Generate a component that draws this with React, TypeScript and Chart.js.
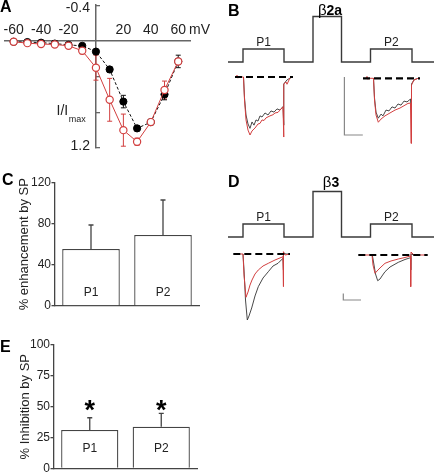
import React, { useEffect, useRef } from 'react';
import { Chart, registerables } from 'chart.js';

Chart.register(...registerables);

const FONT = '"Liberation Sans", Arial, Helvetica, sans-serif';
Chart.defaults.font.family = FONT;
Chart.defaults.color = '#222';

const RED = '#d23f3f';
const INK = '#222222';
const AXIS = '#444444';

// ---------------- Panel A : I/Imax vs mV ----------------
const ivVoltage = [-60, -50, -40, -30, -20, -10, 0, 10, 20, 30, 40, 50, 60];
const ivControl = [0.01, 0.013, 0.02, 0.03, 0.045, 0.055, 0.12, 0.32, 0.68, 0.98, 0.91, 0.6, 0.23];
const ivControlErr = [0.01, 0.01, 0.01, 0.01, 0.01, 0.015, 0.02, 0.03, 0.07, 0.03, 0.02, 0.06, 0.07];
const ivSP = [0.01, 0.025, 0.035, 0.04, 0.055, 0.11, 0.3, 0.66, 1.0, 1.13, 0.91, 0.55, 0.23];
const ivSPErr = [0.01, 0.01, 0.01, 0.015, 0.015, 0.035, 0.14, 0.24, 0.18, 0.04, 0.03, 0.1, 0.03];
const ivXTicks = [-60, -40, -20, 20, 40, 60];
const ivYTicks = [-0.4, 0.4, 0.8, 1.2];
const ivYLabels = [-0.4, 1.2];

// ---------------- Panels B / D : protocol + current traces ----------------
// time in ms, protocol level in relative units
const protocolTime = [1.5, 9, 9, 29.5, 29.5, 44, 44, 58.25, 58.25, 72.75, 72.75, 93.5, 93.5, 104.5];
const protocolLevel = [0, 0, 1, 1, 0, 0, 3.5, 3.5, 0, 0, 1, 1, 0, 0];
const pulseNames = ['P1', 'P2'];

// beta2a currents [ms, pA]
const b2aP1Control = [[9.25, 0], [9.75, -72], [10.5, -131], [11.5, -162], [12.5, -177], [13.5, -155], [14.5, -166], [15.5, -148], [16.5, -152], [17.5, -134], [18.5, -138], [20, -124], [21.5, -131], [23, -117], [24.5, -121], [26, -110], [27.5, -114], [29, -102], [29.25, -166], [29.5, -24], [31, -10], [33.5, 0]];
const b2aP1SP = [[5.5, 0], [6, 6], [6.5, -4], [7, 0], [9.25, 0], [9.75, -79], [10.5, -148], [11.5, -183], [12.5, -200], [13.5, -186], [15, -176], [16.5, -162], [17.5, -160], [18.5, -148], [19.5, -150], [20.5, -141], [22.5, -134], [24, -130], [25, -124], [26.5, -122], [27.5, -114], [29, -103], [29.25, -207], [29.5, -24], [30.5, -17], [31, -25], [32.5, -3], [33.5, 0]];
const b2aP2Control = [[74.25, -4.5], [74.75, -72], [75.5, -121], [76.65, -142], [78, -128], [79, -134], [80.5, -114], [82, -117], [83.5, -103], [85, -107], [86.5, -93], [88, -97], [89.5, -83], [91, -86], [92.75, -76], [93, -114], [93.25, -24], [94.5, -10], [96.5, -4.5]];
const b2aP2SP = [[70.5, -4.5], [71, 2], [71.5, -8], [72, -4.5], [74.25, -4.5], [74.75, -79], [75.5, -131], [76.65, -156], [78, -145], [80, -134], [82.5, -124], [85, -114], [87.5, -107], [90, -97], [91.5, -91], [92.75, -90], [93, -229], [93.25, -28], [94.5, -10], [96.5, -4.5]];
const b2aBaselineP1 = [[5, 0], [34, 0]];
const b2aBaselineP2 = [[69, -4.5], [97.5, -4.5]];
const b2aScaleBar = [[59.7, 0], [59.7, -200], [68.9, -200]];

// beta3 currents [ms, pA]
const b3P1Control = [[9, 0], [9.5, -242], [10.25, -697], [11.15, -1000], [12, -939], [13.35, -818], [15, -636], [16.65, -495], [19, -364], [21.65, -268], [24, -182], [26.5, -141], [29, -65], [29.15, -242], [29.3, 15], [30.5, 0], [32.5, 0]];
const b3P1SP = [[4.5, 0], [9, 0], [9.5, -318], [10.5, -656], [11.5, -576], [12.5, -470], [13.5, -394], [15, -303], [16.65, -242], [19, -182], [21.65, -141], [25, -91], [29, -41], [29.15, -495], [29.3, 35], [30, -15], [32.5, 0]];
const b3P2Control = [[73.65, -15], [74.25, -121], [75.25, -303], [76.35, -405], [77.5, -379], [78.5, -333], [80, -268], [82.5, -197], [86.65, -126], [90, -83], [92.75, -56], [92.85, -242], [93, 0], [94.5, -15]];
const b3P2SP = [[67.5, -15], [73.5, -15], [74, -167], [75, -292], [76.5, -242], [78, -197], [80, -141], [83, -106], [86.65, -76], [90, -53], [92.75, -30], [92.85, -495], [93, 30], [94.5, -15], [100, -15]];
const b3BaselineP1 = [[4.15, 0], [32.5, 0]];
const b3BaselineP2 = [[66.65, -15], [101.35, -15]];
const b3ScaleBar = [[59.15, -597], [59.15, -697], [68, -697]];

// ---------------- Panels C / E : bars ----------------
const barLabels = ['P1', 'P2'];
const enhancementMean = [55.4, 69];
const enhancementErr = [23.3, 34];
const enhancementTicks = [0, 40, 80, 120];
const inhibitionMean = [31.2, 33.9];
const inhibitionErr = [9.9, 10.7];
const inhibitionTicks = [0, 25, 50, 75, 100];
const inhibitionStars = [51, 51];

const toXY = (pairs: number[][]) => pairs.map(([x, y]) => ({ x, y }));

const baseOptions = {
  responsive: false,
  maintainAspectRatio: false,
  animation: false,
  devicePixelRatio: 1,
  events: [],
  plugins: { legend: { display: false }, tooltip: { enabled: false } },
};

// ---------- Panel A ----------
function buildIV(): any {
  const ivPlugin = {
    id: 'ivExtras',
    beforeDatasetsDraw(chart: any) {
      const { ctx } = chart;
      const xs = chart.scales.x;
      const ys = chart.scales.y;
      chart.data.datasets.forEach((ds: any) => {
        ctx.save();
        ctx.strokeStyle = ds.borderColor;
        ctx.lineWidth = 1;
        ds.data.forEach((p: any, i: number) => {
          const e = ds.errors[i];
          const x = xs.getPixelForValue(p.x);
          const y1 = ys.getPixelForValue(p.y - e);
          const y2 = ys.getPixelForValue(p.y + e);
          ctx.beginPath();
          ctx.moveTo(x, y1);
          ctx.lineTo(x, y2);
          ctx.moveTo(x - 2.5, y1);
          ctx.lineTo(x + 2.5, y1);
          ctx.moveTo(x - 2.5, y2);
          ctx.lineTo(x + 2.5, y2);
          ctx.stroke();
        });
        ctx.restore();
      });
    },
    afterDraw(chart: any) {
      const { ctx, chartArea } = chart;
      const xs = chart.scales.x;
      const ys = chart.scales.y;
      ctx.save();
      ctx.fillStyle = '#000';
      ctx.font = `bold 16px ${FONT}`;
      ctx.textAlign = 'left';
      ctx.textBaseline = 'alphabetic';
      ctx.fillText('A', 0, 12);

      ctx.fillStyle = INK;
      ctx.font = `14px ${FONT}`;
      ctx.textAlign = 'center';
      ctx.textBaseline = 'middle';
      const y0 = ys.getPixelForValue(0);
      ivXTicks.forEach((v) => ctx.fillText(String(v), xs.getPixelForValue(v), y0 - 11));
      ctx.textAlign = 'left';
      ctx.fillText('mV', chartArea.right - 1, y0 - 11);

      ctx.textAlign = 'right';
      const x0 = xs.getPixelForValue(0);
      ivYLabels.forEach((v) => {
        const dy = v < 0 ? 3 : -1.5;
        ctx.fillText(String(v), x0 - 6, ys.getPixelForValue(v) + dy);
      });

      ctx.textAlign = 'left';
      ctx.fillText('I/I', 56.5, 111);
      const w = ctx.measureText('I/I').width;
      ctx.font = `9px ${FONT}`;
      ctx.fillText('max', 56.5 + w + 0.5, 119.5);
      ctx.restore();
    },
  };

  return {
    type: 'line',
    data: {
      datasets: [
        {
          label: 'SP',
          data: ivVoltage.map((x, i) => ({ x, y: ivSP[i] })),
          errors: ivSPErr,
          borderColor: RED,
          borderWidth: 1,
          pointRadius: 3.6,
          pointBackgroundColor: '#ffffff',
          pointBorderColor: RED,
          pointBorderWidth: 1.2,
          tension: 0,
          clip: false,
        },
        {
          label: 'Control',
          data: ivVoltage.map((x, i) => ({ x, y: ivControl[i] })),
          errors: ivControlErr,
          borderColor: '#111111',
          borderWidth: 1,
          borderDash: [3, 2],
          pointRadius: 3.6,
          pointBackgroundColor: '#000000',
          pointBorderColor: '#000000',
          pointBorderWidth: 1,
          tension: 0,
          clip: false,
        },
      ],
    },
    options: {
      ...baseOptions,
      layout: { padding: { left: 0, top: 3, right: 25, bottom: 7 } },
      scales: {
        x: {
          type: 'linear',
          min: -66.17,
          max: 68.58,
          position: { y: 0 },
          afterBuildTicks: (s: any) => {
            s.ticks = ivXTicks.map((value) => ({ value }));
          },
          ticks: { display: false },
          grid: { drawOnChartArea: false, drawTicks: false },
          border: { color: '#666', width: 1.5 },
        },
        y: {
          type: 'linear',
          min: -0.4,
          max: 1.2,
          reverse: true,
          position: { x: 0 },
          afterBuildTicks: (s: any) => {
            s.ticks = ivYTicks.map((value) => ({ value }));
          },
          ticks: { display: false },
          grid: { drawOnChartArea: false, drawTicks: true, tickLength: -5, color: '#666', lineWidth: 1.3 },
          border: { color: '#666', width: 1.5 },
        },
      },
    },
    plugins: [ivPlugin],
  };
}

// ---------- Panels B / D ----------
function buildTraces(p: {
  letter: string;
  titleGreek: string;
  titleRest: string;
  vMin: number;
  vMax: number;
  iMin: number;
  iMax: number;
  titleX: number;
  titleBase: number;
  p1Control: number[][];
  p1SP: number[][];
  p2Control: number[][];
  p2SP: number[][];
  baseP1: number[][];
  baseP2: number[][];
  scaleBar: number[][];
  letterBase: number;
}): any {
  const textPlugin = {
    id: 'traceText',
    afterDraw(chart: any) {
      const { ctx } = chart;
      const xs = chart.scales.x;
      const vs = chart.scales.v;
      ctx.save();
      ctx.fillStyle = '#000';
      ctx.font = `bold 16px ${FONT}`;
      ctx.textAlign = 'left';
      ctx.textBaseline = 'alphabetic';
      ctx.fillText(p.letter, 3, p.letterBase);
      // title: regular beta + bold subtype
      const gFont = `15px ${FONT}`;
      const rFont = `bold 14px ${FONT}`;
      ctx.font = gFont;
      const gw = ctx.measureText(p.titleGreek).width;
      ctx.font = rFont;
      const rw = ctx.measureText(p.titleRest).width;
      const start = p.titleX - (gw + rw) / 2;
      ctx.font = gFont;
      ctx.fillText(p.titleGreek, start, p.titleBase);
      ctx.font = rFont;
      ctx.fillText(p.titleRest, start + gw, p.titleBase);

      ctx.fillStyle = INK;
      ctx.textAlign = 'center';
      ctx.font = `12px ${FONT}`;
      const stepTop = vs.getPixelForValue(1) - 2.5;
      const p1c = (protocolTime[2] + protocolTime[3]) / 2;
      const p2c = (protocolTime[10] + protocolTime[11]) / 2;
      ctx.fillText(pulseNames[0], xs.getPixelForValue(p1c), stepTop);
      ctx.fillText(pulseNames[1], xs.getPixelForValue(p2c), stepTop);
      ctx.restore();
    },
  };
  const trace = (pairs: number[][], color: string, width: number, extra: any = {}) => ({
    data: toXY(pairs),
    yAxisID: 'i',
    borderColor: color,
    borderWidth: width,
    pointRadius: 0,
    tension: 0,
    fill: false,
    clip: false,
    ...extra,
  });
  return {
    type: 'line',
    data: {
      datasets: [
        trace(p.baseP1, '#000', 2.2, { borderDash: [7, 4] }),
        trace(p.baseP2, '#000', 2.2, { borderDash: [7, 4] }),
        trace(p.p1SP, RED, 1),
        trace(p.p2SP, RED, 1),
        trace(p.p1Control, '#333', 0.9),
        trace(p.p2Control, '#333', 0.9),
        trace(p.scaleBar, '#888', 1.2),
        {
          data: protocolTime.map((x, i) => ({ x, y: protocolLevel[i] })),
          yAxisID: 'v',
          borderColor: '#3a3a3a',
          borderWidth: 1.4,
          pointRadius: 0,
          tension: 0,
          fill: false,
          clip: false,
        },
      ],
    },
    options: {
      ...baseOptions,
      layout: { padding: 0 },
      scales: {
        x: { type: 'linear', min: 0, max: 104.5, display: false },
        v: { type: 'linear', min: p.vMin, max: p.vMax, display: false },
        i: { type: 'linear', min: p.iMin, max: p.iMax, display: false },
      },
    },
    plugins: [textPlugin],
  };
}

// ---------- Panels C / E ----------
function buildBars(p: {
  letter: string;
  letterX: number;
  letterBase: number;
  title: string;
  titlePad: number;
  mean: number[];
  err: number[];
  ticks: number[];
  max: number;
  axisWidth: number;
  xHeight: number;
  padTop: number;
  padRight: number;
  labelOffset: number;
  stars?: number[];
}): any {
  const plugin = {
    id: 'barExtras',
    afterDatasetsDraw(chart: any) {
      const { ctx } = chart;
      const ys = chart.scales.y;
      const meta = chart.getDatasetMeta(0);
      ctx.save();
      meta.data.forEach((bar: any, i: number) => {
        const v = p.mean[i];
        const top = ys.getPixelForValue(v);
        const et = ys.getPixelForValue(v + p.err[i]);
        ctx.strokeStyle = AXIS;
        ctx.lineWidth = 1.3;
        ctx.beginPath();
        ctx.moveTo(bar.x, top);
        ctx.lineTo(bar.x, et);
        ctx.moveTo(bar.x - 2.5, et);
        ctx.lineTo(bar.x + 2.5, et);
        ctx.stroke();
        ctx.fillStyle = INK;
        ctx.font = `12px ${FONT}`;
        ctx.textAlign = 'center';
        ctx.textBaseline = 'middle';
        ctx.fillText(barLabels[i], bar.x, ys.getPixelForValue(0) - p.labelOffset);
        if (p.stars) {
          ctx.font = `bold 27px ${FONT}`;
          ctx.textBaseline = 'alphabetic';
          ctx.fillStyle = '#000';
          const m = ctx.measureText('*');
          const cy = ys.getPixelForValue(p.stars[i]);
          ctx.fillText('*', bar.x, cy + (m.actualBoundingBoxAscent - m.actualBoundingBoxDescent) / 2);
        }
      });
      ctx.restore();
    },
    afterDraw(chart: any) {
      const { ctx } = chart;
      ctx.save();
      ctx.fillStyle = '#000';
      ctx.font = `bold 16px ${FONT}`;
      ctx.textAlign = 'left';
      ctx.textBaseline = 'alphabetic';
      ctx.fillText(p.letter, p.letterX, p.letterBase);
      ctx.restore();
    },
  };
  return {
    type: 'bar',
    data: {
      labels: barLabels,
      datasets: [
        {
          data: p.mean,
          backgroundColor: '#ffffff',
          borderColor: AXIS,
          borderWidth: 1.3,
          barPercentage: 0.8,
          categoryPercentage: 1,
        },
      ],
    },
    options: {
      ...baseOptions,
      layout: { padding: { left: 0, top: p.padTop, right: p.padRight, bottom: 0 } },
      scales: {
        x: {
          ticks: { display: false },
          grid: { drawOnChartArea: false, drawTicks: false },
          border: { color: AXIS, width: 1.3 },
          afterFit: (s: any) => {
            s.height = p.xHeight;
          },
        },
        y: {
          min: 0,
          max: p.max,
          afterBuildTicks: (s: any) => {
            s.ticks = p.ticks.map((value) => ({ value }));
          },
          ticks: { padding: 0.5, color: INK, font: { size: 12, lineHeight: 1 } },
          grid: { drawOnChartArea: false, drawTicks: true, tickLength: 3.5, color: AXIS, lineWidth: 1.3 },
          border: { color: AXIS, width: 1.3 },
          title: {
            display: true,
            text: p.title,
            color: INK,
            font: { size: 13 },
            padding: { top: p.titlePad, bottom: 0 },
          },
          afterFit: (s: any) => {
            s.width = p.axisWidth;
          },
        },
      },
    },
    plugins: [plugin],
  };
}

function ChartCanvas({ left, top, width, height, build }: { left: number; top: number; width: number; height: number; build: () => any }) {
  const ref = useRef<HTMLCanvasElement>(null);
  useEffect(() => {
    const chart = new Chart(ref.current as HTMLCanvasElement, build());
    return () => chart.destroy();
  }, []);
  return (
    <canvas
      ref={ref}
      width={width}
      height={height}
      style={{ position: 'absolute', left, top, width, height, display: 'block' }}
    />
  );
}

export default function App() {
  return (
    <div style={{ position: 'absolute', left: 0, top: 0, width: 434, height: 475, background: '#fff', overflow: 'hidden' }}>
      <ChartCanvas left={0} top={0} width={215} height={155} build={buildIV} />
      <ChartCanvas
        left={225}
        top={0}
        width={209}
        height={150}
        build={() =>
          buildTraces({
            letter: 'B',
            letterBase: 16,
            titleGreek: 'β',
            titleRest: '2a',
            titleX: 105,
            titleBase: 15,
            vMin: -6.769,
            vMax: 4.769,
            iMin: -251.7,
            iMax: 265.5,
            p1Control: b2aP1Control,
            p1SP: b2aP1SP,
            p2Control: b2aP2Control,
            p2SP: b2aP2SP,
            baseP1: b2aBaselineP1,
            baseP2: b2aBaselineP2,
            scaleBar: b2aScaleBar,
          })
        }
      />
      <ChartCanvas
        left={0}
        top={160}
        width={215}
        height={160}
        build={() =>
          buildBars({
            letter: 'C',
            letterX: 2,
            letterBase: 25,
            title: '% enhancement by SP',
            titlePad: 17,
            mean: enhancementMean,
            err: enhancementErr,
            ticks: enhancementTicks,
            max: 120,
            axisWidth: 55,
            xHeight: 14,
            padTop: 22.5,
            padRight: 16,
            labelOffset: 13.5,
          })
        }
      />
      <ChartCanvas
        left={225}
        top={160}
        width={209}
        height={170}
        build={() =>
          buildTraces({
            letter: 'D',
            letterBase: 27,
            titleGreek: 'β',
            titleRest: '3',
            titleX: 106,
            titleBase: 26.5,
            vMin: -7.154,
            vMax: 5.923,
            iMin: -1151.5,
            iMax: 1424.2,
            p1Control: b3P1Control,
            p1SP: b3P1SP,
            p2Control: b3P2Control,
            p2SP: b3P2SP,
            baseP1: b3BaselineP1,
            baseP2: b3BaselineP2,
            scaleBar: b3ScaleBar,
          })
        }
      />
      <ChartCanvas
        left={0}
        top={320}
        width={215}
        height={155}
        build={() =>
          buildBars({
            letter: 'E',
            letterX: 0,
            letterBase: 32,
            title: '% Inhibition by SP',
            titlePad: 18,
            mean: inhibitionMean,
            err: inhibitionErr,
            ticks: inhibitionTicks,
            max: 100,
            axisWidth: 54,
            xHeight: 6,
            padTop: 25,
            padRight: 18,
            labelOffset: 20,
            stars: inhibitionStars,
          })
        }
      />
    </div>
  );
}
